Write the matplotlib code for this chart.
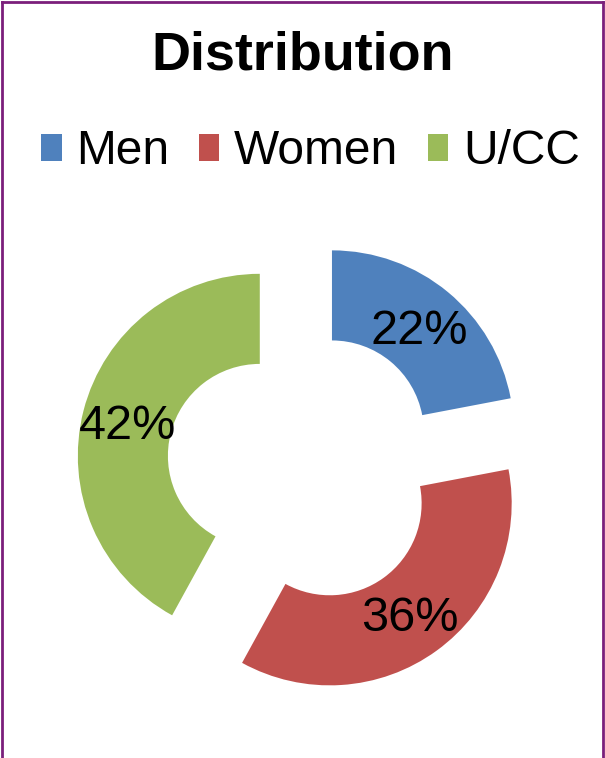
import matplotlib.pyplot as plt
from matplotlib.lines import Line2D

labels = ["Men", "Women", "U/CC"]
values = [22, 36, 42]
colors = ["#4F81BD", "#C0504D", "#9BBB59"]

plt.rcParams["font.family"] = ["Liberation Sans", "DejaVu Sans"]

fig = plt.figure(figsize=(6.05, 7.58), dpi=100)
ax = fig.add_axes([0, 0, 1, 1])

wedges, texts, pcts = ax.pie(values, colors=colors, startangle=90, counterclock=False,
                             explode=[0.247] * 3, autopct="%d%%", pctdistance=0.75,
                             wedgeprops=dict(width=0.495, linewidth=0),
                             textprops=dict(fontsize=35, color="black"))
for t in pcts:
    x, y = t.get_position()
    t.set_position((x, y - 0.025))
ax.set_aspect("auto")
ax.set_xlim(-1.667, 1.658)
ax.set_ylim(-1.599, 2.566)
ax.axis("off")

fig.text(0.5, 1 - 56 / 758, "Distribution", ha="center", va="center",
         fontsize=38.8, fontweight="bold")

fig.legend(wedges, labels, loc="center", bbox_to_anchor=(0.513, 1 - 152 / 758),
           ncol=3, frameon=False, fontsize=34.5, handlelength=0.43, handleheight=0.48,
           handletextpad=0.3, columnspacing=0.62, borderpad=0, borderaxespad=0)

# purple border (bottom edge cut off in the original)
border = "#7B1F7B"
fig.add_artist(Line2D([0.003, 0.003], [0, 0.997], transform=fig.transFigure, color=border, lw=2))
fig.add_artist(Line2D([0.003, 0.997], [0.997, 0.997], transform=fig.transFigure, color=border, lw=2))
fig.add_artist(Line2D([0.997, 0.997], [0, 0.997], transform=fig.transFigure, color=border, lw=2))

plt.savefig("out.png", dpi=100)
